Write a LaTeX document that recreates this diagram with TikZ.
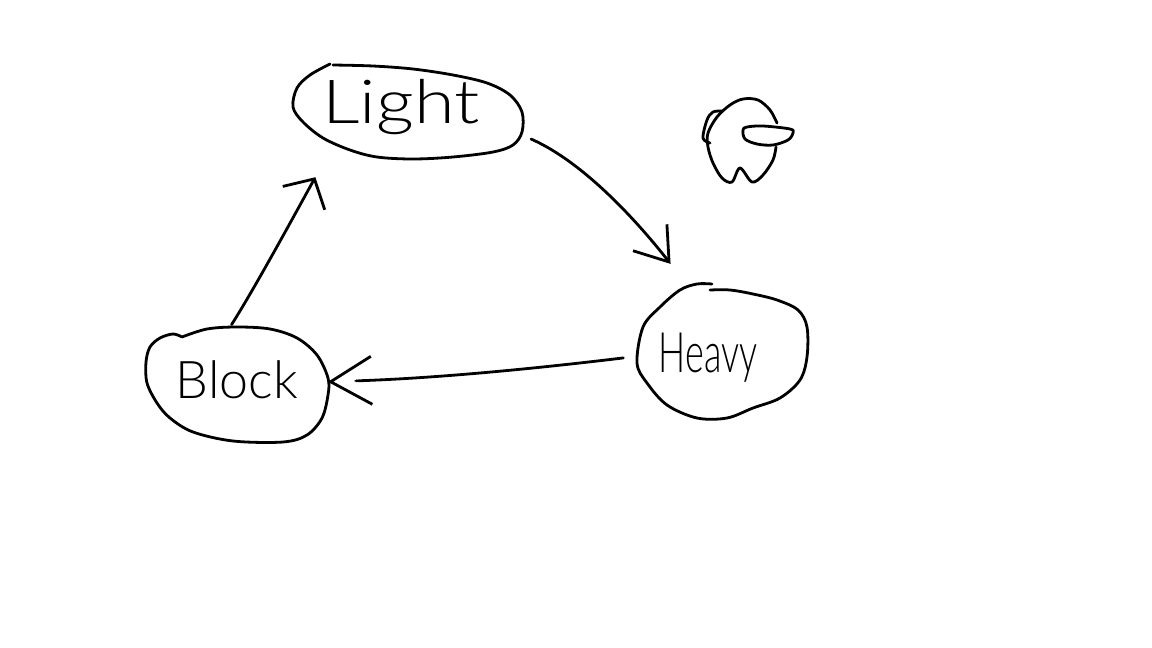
\documentclass[tikz,border=0pt]{standalone}
\usepackage{fontspec}
\setmainfont{Lato Light}
\usepackage{tikz}
\usetikzlibrary{arrows.meta, shapes.geometric}
\tikzset{
  sketch/.style = {black, line width=2.8pt, line cap=round, line join=round},
  blob/.style = {sketch, smooth, tension=0.55},
  state/.style = {ellipse, inner sep=0pt, outer sep=0pt, text=black}
}
\newcommand{\statetext}[4]{\raisebox{#1}[0pt][0pt]{\scalebox{#2}[#3]{#4}}}
\begin{document}
\begin{tikzpicture}[x=1pt, y=-1pt]
  \useasboundingbox (0,0) rectangle (1152,648);

  \draw [blob] plot [smooth] coordinates {(330,64) (310,75) (297,88) (293,107) (303,122) (323,138) (350,150) (377,157) (413,159) (453,157) (493,152) (513,145) (522,132) (522,112) (510,95) (487,83) (453,75) (413,69) (373,66) (333,65)};
  \draw [blob] plot [smooth] coordinates {(182,337) (173,334) (160,338) (150,347) (146,362) (147,383) (157,403) (170,418) (193,432) (233,441) (283,442) (307,435) (322,418) (328,395) (328,378) (317,355) (297,338) (270,329) (237,327) (207,329) (182,337)};
  \draw [blob] plot [smooth] coordinates {(712,284) (697,284) (680,290) (660,307) (643,327) (637,363) (647,383) (667,405) (697,418) (727,418) (753,408) (780,398) (800,380) (807,357) (807,327) (798,310) (777,300) (753,294) (730,290) (710,290)};

  \node [state, minimum width=230pt, minimum height=94pt, font=\fontsize{66}{66}\selectfont] (light) at (401,112) {\statetext{-11pt}{1.12}{0.92}{Light}};
  \node [state, minimum width=182pt, minimum height=116pt, font=\fontsize{52}{52}\selectfont] (block) at (237,385) {\statetext{-13pt}{1}{1}{Block}};
  \node [state, minimum width=170pt, minimum height=136pt, font=\fontsize{36}{36}\selectfont] (heavy) at (708,352) {\statetext{-20pt}{1}{1.55}{Heavy}};

  \draw [sketch, -{Straight Barb[length=31pt, width=43pt]}, shorten <=25pt, shorten >=28pt] (light.-9.5) .. controls (590,165) and (648,235) .. (heavy.107.6);
  \draw [sketch, -{Straight Barb[length=0.5pt, width=0.5pt, sep=-19pt] . Straight Barb[length=41pt, width=48pt]}] (heavy.184) .. controls (540,368) and (440,378) .. (block.2);
  \draw [sketch, -{Straight Barb[length=22pt, width=48pt]}, shorten <=3pt, shorten >=32pt] (block.97) .. controls (255,288) and (301,203) .. (light.208);

  \draw [blob] plot [smooth] coordinates {(777,123) (770,110) (758,100) (743,99) (730,105) (717,117) (708,133) (708,147) (713,163) (722,178) (732,182) (740,168) (752,182) (763,175) (773,160) (776,147)};
  \draw [blob] plot [smooth] coordinates {(723,111) (713,112) (707,120) (703,138) (710,143)};
  \draw [blob] plot [smooth cycle] coordinates {(743,130) (747,127) (763,126) (790,129) (793,133) (788,140) (773,145) (757,144) (745,139)};
\end{tikzpicture}
\end{document}
